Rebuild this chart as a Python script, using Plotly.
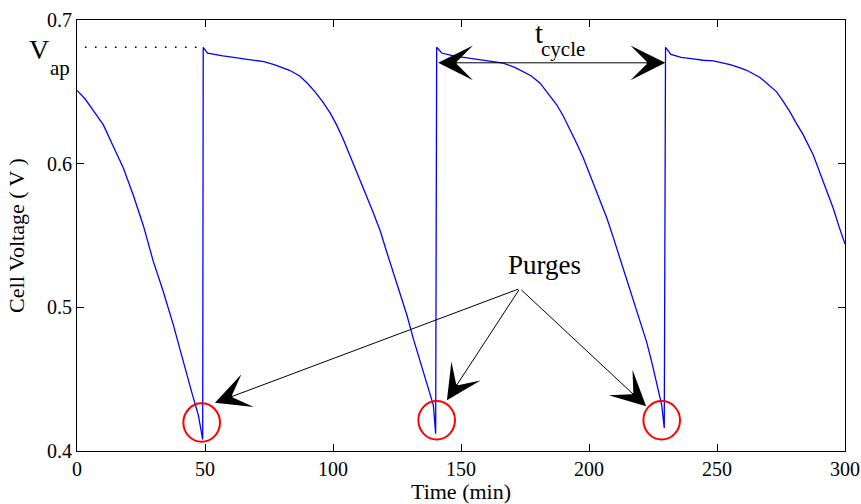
import plotly.graph_objects as go

# ---- data ----
time_min = [0, 3.2, 6.4, 10.3, 14.2, 18.1, 22, 25.9, 29.8, 33.7, 37.6, 41.5, 44.8, 47.4, 49.1,
            49.3, 51, 57, 61, 65, 69, 73, 77, 80, 83, 87, 90, 93, 96, 99, 101.4, 104, 106.6,
            109, 111.8, 115.7, 118.5, 120.9, 123.5, 126.1, 128.8, 131.4, 134, 136.6, 139.2, 140.1,
            140.5, 142.5, 147, 151, 155, 159, 163, 166.5, 171, 174.3, 177.5, 180.9, 184, 187.4,
            190, 192.6, 195.2, 197.8, 200.4, 203, 207, 209.6, 212.1, 214.7, 217.3, 219.9, 222.5,
            224.5, 226.4, 228.4, 229.4,
            229.9, 232, 236, 240.7, 244.5, 248.6, 255.1, 258.5, 261.6, 266.8, 270, 273.3, 276,
            278.5, 281, 283.7, 287.6, 291.5, 295.4, 297.7, 300]
cell_voltage = [0.651, 0.645, 0.637, 0.627, 0.612, 0.597, 0.578, 0.557, 0.532, 0.511, 0.488,
                0.462, 0.441, 0.425, 0.408,
                0.681, 0.677, 0.675, 0.674, 0.673, 0.672, 0.671, 0.669, 0.667, 0.665, 0.661,
                0.656, 0.650, 0.643, 0.635, 0.627, 0.617, 0.606, 0.595, 0.583, 0.566, 0.553,
                0.539, 0.525, 0.511, 0.495, 0.478, 0.463, 0.448, 0.432, 0.412,
                0.681, 0.677, 0.675, 0.674, 0.673, 0.672, 0.671, 0.670, 0.667, 0.664, 0.661,
                0.656, 0.649, 0.641, 0.633, 0.624, 0.614, 0.604, 0.592, 0.580, 0.562, 0.548,
                0.534, 0.520, 0.506, 0.491, 0.476, 0.462, 0.448, 0.432, 0.416,
                0.681, 0.676, 0.674, 0.673, 0.672, 0.6715, 0.669, 0.667, 0.665, 0.660, 0.655,
                0.650, 0.643, 0.636, 0.628, 0.620, 0.606, 0.587, 0.569, 0.556, 0.544]

x_ticks = [0, 50, 100, 150, 200, 250, 300]
y_ticks = [0.4, 0.5, 0.6, 0.7]

v_ap = 0.681
v_ap_line_t = [3.1, 49.3]

purge_t = [48.7, 140.5, 228.4]
purge_v = [0.4198, 0.4214, 0.4214]
purge_rx = 7.15     # minutes
purge_ry = 0.0134   # volts

purge_label = (182.8, 0.5292)
purge_origin = (173.0, 0.5131)
purge_tips = [(53.9, 0.4335), (144.5, 0.4354), (222.3, 0.4312)]

cycle_arrow_t = [140.5, 229.8]
cycle_arrow_v = 0.6702

FONT = "Liberation Serif"

fig = go.Figure()
fig.add_trace(go.Scatter(x=time_min, y=cell_voltage, mode="lines",
                         line=dict(color="#0000FF", width=1.3), showlegend=False))
fig.add_trace(go.Scatter(x=v_ap_line_t, y=[v_ap, v_ap], mode="lines",
                         line=dict(color="black", width=1.6, dash="1.6px,8.4px"),
                         showlegend=False))

shapes = []
for t, v in zip(purge_t, purge_v):
    shapes.append(dict(type="circle", xref="x", yref="y",
                       x0=t - purge_rx, x1=t + purge_rx, y0=v - purge_ry, y1=v + purge_ry,
                       line=dict(color="#FF0000", width=2)))

annotations = []
txt = dict(showarrow=False, xanchor="center", yanchor="middle")
# V_ap (left of the plot area, so x in paper units)
annotations.append(dict(x=-0.0495, y=0.6796, xref="paper", yref="y", text="V",
                        font=dict(family=FONT, size=28, color="black"), **txt))
annotations.append(dict(x=-0.0215, y=0.6664, xref="paper", yref="y", text="ap",
                        font=dict(family=FONT, size=21, color="black"), **txt))
# t_cycle
annotations.append(dict(x=180.3, y=0.6910, xref="x", yref="y", text="t",
                        font=dict(family=FONT, size=29, color="black"), **txt))
annotations.append(dict(x=189.9, y=0.6796, xref="x", yref="y", text="cycle",
                        font=dict(family=FONT, size=21, color="black"), **txt))
# double arrow
annotations.append(dict(x=cycle_arrow_t[1], y=cycle_arrow_v, ax=cycle_arrow_t[0], ay=cycle_arrow_v,
                        xref="x", yref="y", axref="x", ayref="y", text="", showarrow=True,
                        arrowhead=3, startarrowhead=3, arrowside="end+start",
                        arrowsize=5.8, startarrowsize=5.8, arrowwidth=1, arrowcolor="black"))
# Purges
annotations.append(dict(x=purge_label[0], y=purge_label[1], xref="x", yref="y", text="Purges",
                        font=dict(family=FONT, size=27, color="black"), **txt))
for tx, ty in purge_tips:
    annotations.append(dict(x=tx, y=ty, ax=purge_origin[0], ay=purge_origin[1],
                            xref="x", yref="y", axref="x", ayref="y", text="", showarrow=True,
                            arrowhead=3, arrowsize=5.8, arrowwidth=1, arrowcolor="black"))

axis_common = dict(showline=True, linecolor="black", linewidth=1, mirror="ticks",
                   ticks="inside", ticklen=7, tickcolor="black", tickwidth=1,
                   showgrid=False, zeroline=False, automargin=False,
                   tickfont=dict(family=FONT, size=20, color="black"))

fig.update_layout(
    width=861, height=504,
    margin=dict(l=77, r=16, t=20, b=53),
    paper_bgcolor="white", plot_bgcolor="white",
    xaxis=dict(range=[0, 300], tickvals=x_ticks, ticktext=[str(v) for v in x_ticks],
               title=dict(text="Time (min)", font=dict(family=FONT, size=22, color="black"),
                          standoff=6),
               **axis_common),
    yaxis=dict(range=[0.4, 0.7], tickvals=y_ticks, ticktext=[f"{v:.1f}" for v in y_ticks],
               title=dict(text="Cell Voltage ( V )", font=dict(family=FONT, size=22, color="black"),
                          standoff=16),
               **axis_common),
    shapes=shapes,
    annotations=annotations,
)

fig.write_html("out.html")
